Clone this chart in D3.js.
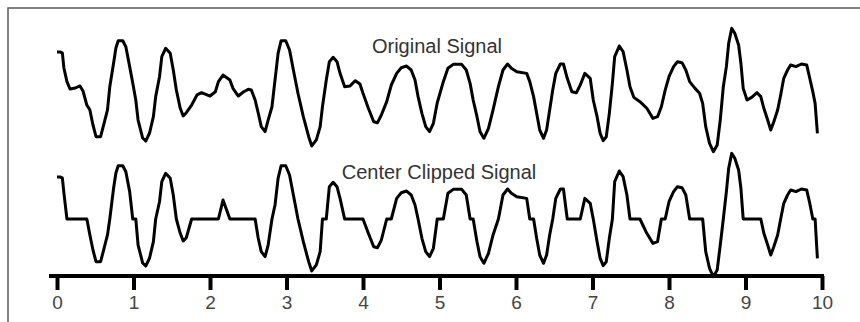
<!DOCTYPE html>
<html>
<head>
<meta charset="utf-8">
<script src="https://cdn.jsdelivr.net/npm/d3@7"></script>
<style>
  html, body { margin: 0; padding: 0; background: #fff; }
  svg { display: block; }
</style>
</head>
<body>
<svg id="chart" width="860" height="322"></svg>
<script>
// time (units on the 0..10 axis)
const time = [
  0.00,0.04,0.07,0.09,0.13,0.17,0.24,0.30,0.34,0.39,
  0.43,0.47,0.51,0.57,0.61,0.66,0.69,0.74,0.77,0.80,
  0.86,0.90,0.95,0.99,1.03,1.06,1.12,1.16,1.21,1.26,
  1.29,1.34,1.37,1.42,1.48,1.52,1.56,1.61,1.65,1.69,
  1.76,1.83,1.89,2.00,2.07,2.11,2.17,2.26,2.30,2.37,
  2.44,2.50,2.54,2.59,2.63,2.67,2.72,2.76,2.81,2.85,
  2.89,2.93,2.99,3.04,3.09,3.15,3.22,3.29,3.33,3.39,
  3.44,3.47,3.52,3.56,3.61,3.66,3.70,3.76,3.83,3.90,
  3.96,4.00,4.07,4.14,4.19,4.24,4.31,4.37,4.44,4.50,
  4.57,4.63,4.68,4.72,4.77,4.82,4.87,4.92,4.97,5.05,
  5.11,5.18,5.29,5.35,5.40,5.44,5.49,5.53,5.58,5.64,
  5.70,5.77,5.83,5.89,5.94,6.01,6.14,6.18,6.23,6.27,
  6.31,6.36,6.40,6.44,6.48,6.52,6.58,6.62,6.67,6.73,
  6.79,6.84,6.90,6.97,7.01,7.06,7.10,7.14,7.18,7.22,
  7.26,7.29,7.35,7.40,7.45,7.49,7.54,7.62,7.71,7.79,
  7.85,7.90,7.95,8.00,8.06,8.11,8.17,8.22,8.27,8.34,
  8.40,8.44,8.48,8.53,8.58,8.63,8.67,8.71,8.75,8.78,
  8.82,8.86,8.91,8.94,8.97,9.02,9.08,9.15,9.20,9.24,
  9.29,9.33,9.37,9.42,9.46,9.50,9.55,9.59,9.66,9.73,
  9.80,9.84,9.88,9.91,9.94
];

// original signal amplitude
const originalSignal = [
  3.50,3.50,3.42,2.17,1.03,0.42,0.50,0.67,0.25,-0.92,
  -1.33,-2.58,-3.56,-3.56,-2.58,-1.33,0.61,2.58,3.83,4.44,
  4.44,3.94,2.28,0.92,-0.50,-2.17,-3.67,-3.92,-3.25,-1.89,
  -0.22,1.44,3.11,3.81,3.39,2.00,0.33,-1.17,-1.83,-1.56,
  -0.92,-0.08,0.11,-0.17,0.19,1.03,1.58,1.17,0.47,-0.17,
  0.19,0.39,0.33,-0.50,-1.58,-2.72,-3.14,-2.17,-1.06,1.17,
  3.39,4.44,4.44,3.67,2.00,0.06,-1.89,-3.56,-4.33,-3.83,
  -2.72,-1.06,1.17,2.69,3.06,2.69,1.72,0.61,0.67,1.11,
  0.83,0.06,-1.19,-2.31,-2.39,-1.75,-0.64,0.75,1.72,2.19,
  2.33,2.00,1.17,-0.22,-1.61,-2.72,-3.14,-2.44,-0.75,1.03,
  2.14,2.47,2.47,2.00,0.89,-0.50,-1.89,-3.14,-3.69,-2.86,
  -1.33,0.61,2.00,2.50,2.14,1.86,1.72,1.03,-0.22,-1.61,
  -3.00,-3.69,-3.00,-1.33,0.33,1.72,2.50,2.50,1.31,0.19,
  0.11,0.75,1.72,1.31,-0.50,-1.89,-3.28,-3.89,-3.56,-1.61,
  0.89,3.11,4.00,3.53,2.00,0.61,-0.28,-0.64,-1.19,-2.03,
  -1.89,-1.06,0.33,1.44,2.28,2.69,2.61,2.00,1.03,0.47,
  0.06,-0.78,-2.72,-4.11,-4.81,-4.25,-2.17,0.61,2.28,4.22,
  5.47,5.06,4.08,2.56,0.47,-0.50,-0.28,0.11,-0.22,-1.19,
  -2.17,-3.00,-2.31,-1.33,-0.08,1.31,2.00,2.42,2.28,2.50,
  2.42,1.31,0.19,-0.78,-3.28
];

// center clipped signal amplitude
const clippedSignal = [
  3.50,3.50,3.42,2.17,0,0,0,0,0,0,
  -1.33,-2.58,-3.56,-3.56,-2.58,-1.33,0,2.58,3.83,4.44,
  4.44,3.94,2.28,0,0,-2.17,-3.67,-3.92,-3.25,-1.89,
  0,1.44,3.11,3.81,3.39,2.00,0,-1.17,-1.83,-1.56,
  0,0,0,0,0,0,1.58,0,0,0,
  0,0,0,0,-1.58,-2.72,-3.14,-2.17,0,1.17,
  3.39,4.44,4.44,3.67,2.00,0,-1.89,-3.56,-4.33,-3.83,
  -2.72,0,0,2.69,3.06,2.69,1.72,0,0,0,
  0,0,-1.19,-2.31,-2.39,-1.75,0,0,1.72,2.19,
  2.33,2.00,1.17,0,-1.61,-2.72,-3.14,-2.44,0,0,
  2.14,2.47,2.47,2.00,0,0,-1.89,-3.14,-3.69,-2.86,
  -1.33,0,2.00,2.50,2.14,1.86,1.72,0,0,-1.61,
  -3.00,-3.69,-3.00,-1.33,0,1.72,2.50,2.50,0,0,
  0,0,1.72,1.31,0,-1.89,-3.28,-3.89,-3.56,-1.61,
  0,3.11,4.00,3.53,2.00,0,0,0,-1.19,-2.03,
  -1.89,0,0,1.44,2.28,2.69,2.61,2.00,0,0,
  0,0,-2.72,-4.11,-4.81,-4.25,-2.17,0,2.28,4.22,
  5.47,5.06,4.08,2.56,0,0,0,0,0,-1.19,
  -2.17,-3.00,-2.31,-1.33,0,1.31,2.00,2.42,2.28,2.50,
  2.42,1.31,0,0,-3.28
];

const xTicks = [0,1,2,3,4,5,6,7,8,9,10];
const panelTitles = ["Original Signal", "Center Clipped Signal"];

const svg = d3.select("#chart");

// frame (top and left edges)
svg.append("path")
  .attr("d", "M8,322 L8,8 L860,8")
  .attr("fill", "none")
  .attr("stroke", "#5a5a5a")
  .attr("stroke-width", 1.5);

const x = d3.scaleLinear().domain([0, 10]).range([57, 822]);
const yTop = d3.scaleLinear().domain([-5, 5]).range([154, 34]);
const yBot = d3.scaleLinear().domain([-5, 5]).range([279, 159]);

const lineTop = d3.line().x((d, i) => x(time[i])).y(d => yTop(d));
const lineBot = d3.line().x((d, i) => x(time[i])).y(d => yBot(d));

svg.append("path")
  .datum(originalSignal)
  .attr("d", lineTop)
  .attr("fill", "none")
  .attr("stroke", "#000")
  .attr("stroke-width", 3)
  .attr("stroke-linejoin", "round");

svg.append("path")
  .datum(clippedSignal)
  .attr("d", lineBot)
  .attr("fill", "none")
  .attr("stroke", "#000")
  .attr("stroke-width", 3)
  .attr("stroke-linejoin", "round");

// titles
svg.append("text")
  .attr("x", 437).attr("y", 53)
  .attr("text-anchor", "middle")
  .attr("font-family", "Liberation Sans, Arial, Helvetica, sans-serif")
  .attr("font-size", 20)
  .attr("fill", "#333")
  .text(panelTitles[0]);

svg.append("text")
  .attr("x", 439).attr("y", 179)
  .attr("text-anchor", "middle")
  .attr("font-family", "Liberation Sans, Arial, Helvetica, sans-serif")
  .attr("font-size", 20)
  .attr("fill", "#333")
  .text(panelTitles[1]);

// x axis
const axis = d3.axisBottom(x)
  .tickValues(xTicks)
  .tickFormat(d3.format("d"))
  .tickSizeInner(14)
  .tickSizeOuter(0)
  .tickPadding(6);

const gAxis = svg.append("g")
  .attr("transform", "translate(0,276)")
  .call(axis);

gAxis.select(".domain").remove();
gAxis.append("line")
  .attr("x1", x(0) - 8).attr("x2", x(10) + 2)
  .attr("y1", 0).attr("y2", 0)
  .attr("stroke", "#000")
  .attr("stroke-width", 4);

gAxis.selectAll(".tick line")
  .attr("stroke", "#000")
  .attr("stroke-width", 4);

gAxis.selectAll(".tick text")
  .attr("font-family", "Liberation Sans, Arial, Helvetica, sans-serif")
  .attr("font-size", 19)
  .attr("fill", "#444");
</script>
</body>
</html>
